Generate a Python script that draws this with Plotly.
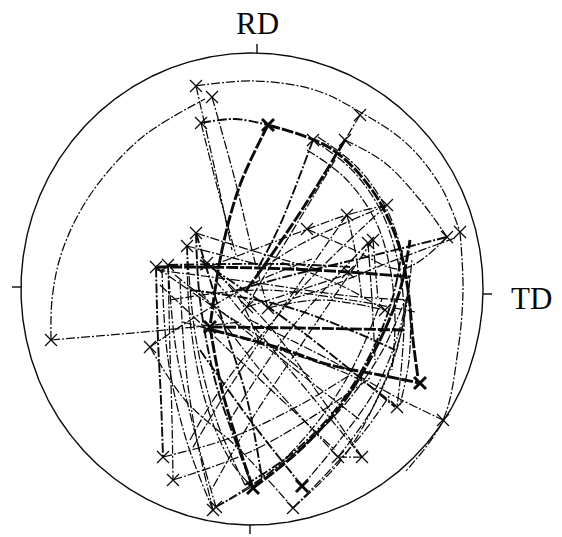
import numpy as np
import plotly.graph_objects as go

# Projection frame: origin at the pole-figure centre, x toward TD, y toward RD.
PRIMITIVE_RX = 231
PRIMITIVE_RY = 236

# Poles (trace end points) marked with crosses
POLES = [(-56, 203), (-40, 192), (-51, 166), (61, 149), (108, 174), (93, 149),
         (135, 84), (95, 74), (116, 46), (121, 49), (55, 60), (208, 57),
         (195, 52), (-56, 56), (-65, 43), (-96, 22), (-84, 24), (-45, 26),
         (-201, -51), (-102, -58), (-5, -18), (16, -19), (96, 17), (133, -21),
         (145, -118), (191, -131), (86, -168), (110, -168), (-89, -168),
         (-79, -191), (-39, -221), (-36, -218), (41, -219)]
HEAVY_POLES = [(16, 164), (168, -94), (1, -199), (50, -197), (-42, -38)]

# Great-circle traces, thin dash-dot
TRACES_THIN = [
    [(-56, 203), (3, 208), (63, 199), (108, 177), (153, 147), (188, 104), (208, 57)],
    [(208, 57), (211, -1), (206, -61), (191, -131), (153, -183)],
    [(-201, -51), (-200, -11), (-192, 31), (-174, 74), (-147, 114), (-107, 154), (-47, 190)],
    [(93, 149), (133, 126), (168, 89), (195, 52)],
    [(61, 149), (100, 119), (130, 76), (146, 27), (152, -21), (150, -71), (145, -118)],
    [(66, 152), (106, 121), (136, 77), (152, 27), (158, -21), (157, -71), (148, -116)],
    [(55, 139), (93, 111), (123, 69), (138, 21), (143, -31), (140, -81)],
    [(-56, 203), (-37, 119), (-20, 39)],
    [(-51, 166), (-34, 99), (-16, 34)],
    [(-40, 192), (-17, 109), (3, 27), (16, -19)],
    [(83, 129), (38, 54), (10, 9), (-5, -18)],
    [(135, 84), (95, 74), (48, 57), (-12, 34), (-52, 19)],
    [(95, 74), (103, 39), (110, -11)],
    [(116, 46), (120, -11), (123, -71)],
    [(121, 49), (126, -11)],
    [(203, 51), (138, 27), (68, -1), (18, -16)],
    [(-96, 19), (-2, 7), (98, -7), (158, -11)],
    [(-69, -33), (28, -61), (108, -91), (145, -118)],
    [(-2, -31), (78, -71), (146, -109), (191, -131)],
    [(-82, -11), (8, -1), (98, -11), (163, -23)],
    [(-84, 24), (-82, -61), (-80, -131), (-79, -191)],
    [(-65, 43), (-62, -31), (-47, -111), (-22, -171), (1, -199)],
    [(-72, 9), (-67, -71), (-57, -141), (-39, -221)],
    [(-102, -58), (-67, -111), (-12, -161), (41, -219)],
    [(-52, -1), (8, -81), (86, -168)],
    [(-37, 9), (38, -81), (110, -168)],
    [(-36, -218), (28, -176), (88, -121), (128, -66), (153, -11)],
    [(50, -197), (88, -151), (123, -101), (146, -46), (158, 9)],
    [(41, -219), (78, -181), (111, -144), (138, -106)],
    [(-89, -168), (-22, -149), (48, -116), (98, -86)],
    [(-79, -191), (-2, -163), (68, -123), (118, -89)],
    [(86, -168), (110, -168)],
    [(-201, -51), (-87, -41), (-12, -33)],
    [(-5, -18), (48, -1), (108, 19)],
    [(16, -19), (68, -11), (133, -21)],
    [(133, -21), (88, 4), (28, 27)],
    [(-92, 4), (-2, -81), (83, -161)],
    [(-77, 14), (18, -61), (108, -131)],
    [(135, 84), (48, -1), (-32, -101), (-62, -151)],
    [(116, 46), (38, -41), (-22, -131)],
    [(8, 19), (51, 46), (135, 84)],
    [(-45, 26), (-12, -11), (10, -61)],
    [(-56, 56), (-2, 39), (68, 19)],
    [(-65, 43), (8, 24)],
    [(108, 174), (93, 149)],
    [(-84, 24), (-76, -60), (-58, -140), (-36, -218)],
    [(-90, 20), (-84, -70), (-66, -150), (-39, -221)],
    [(-65, 43), (-56, -50), (-36, -130), (-7, -196)],
    [(41, -219), (90, -170), (125, -110), (150, -40), (160, 30)],
    [(86, -168), (120, -120), (145, -60), (156, 0)],
    [(121, 49), (60, -40), (0, -130), (-40, -200)],
    [(95, 74), (30, -20), (-30, -110), (-60, -160)],
    [(-45, 26), (20, -40), (70, -110), (110, -168)],
    [(55, 60), (100, 40), (150, 20), (195, 52)],
    [(-102, -58), (-60, -30), (0, 5), (60, 30)],
    [(-96, 22), (-50, -10), (10, -50), (60, -90)],
    [(-36, -218), (10, -190), (60, -140), (100, -80), (130, -10)],
]

# Medium-weight traces
TRACES_MED = [
    [(-51, 166), (-17, 170), (16, 164)],
    [(61, 149), (28, 64), (6, 21)],
    [(195, 52), (131, 36), (48, 16), (-22, -3)],
    [(-84, 24), (28, 25), (98, 22)],
    [(-62, -1), (28, -16), (98, -41), (143, -61)],
    [(-96, 22), (-94, -51), (-91, -111), (-89, -168)],
    [(-56, 56), (-52, -11), (-37, -91), (-17, -151), (1, -199)],
    [(-7, -196), (38, -166), (83, -121), (118, -66), (140, -11), (150, 39)],
    [(-52, 29), (48, -41), (143, -118)],
    [(50, -197), (-2, -131), (-52, -61)],
    [(-56, 56), (-30, -30), (-5, -110), (10, -190)],
]

# Heavy traces
TRACES_BOLD = [
    [(16, 164), (78, 141), (120, 99), (145, 49), (156, -1), (161, -51), (166, -89)],
    [(16, 164), (-12, 104), (-30, 39), (-42, -38)],
    [(93, 149), (53, 84), (16, 29), (-7, -3)],
    [(-96, 22), (8, 21), (96, 17), (158, 12)],
    [(-42, -38), (48, -39), (153, -41)],
    [(-40, -41), (28, -59), (78, -76), (128, -86), (168, -94)],
    [(-42, -38), (-30, -101), (-12, -161), (1, -199)],
    [(1, -199), (48, -161), (93, -111), (128, -51), (148, -1), (158, 49)],
]

# Axis labels and their reference marks on the primitive
AXIS_LABELS = ["RD", "TD"]

INK = "#0a0a0a"
fig = go.Figure()


def add_trace(points, width, dash):
    xs = [p[0] for p in points]
    ys = [p[1] for p in points]
    fig.add_trace(go.Scatter(
        x=xs, y=ys, mode="lines",
        line=dict(color=INK, width=width, dash=dash,
                  shape="spline" if len(points) > 2 else "linear", smoothing=1.0),
        hoverinfo="skip", showlegend=False))


for pts in TRACES_THIN:
    add_trace(pts, 1.25, "9px,2px,2px,2px")
for pts in TRACES_MED:
    add_trace(pts, 1.9, "10px,2px,2px,2px")
for pts in TRACES_BOLD:
    add_trace(pts, 2.9, "12px,2px")

# Primitive circle
t = np.linspace(0, 2 * np.pi, 721)
fig.add_trace(go.Scatter(x=PRIMITIVE_RX * np.cos(t), y=PRIMITIVE_RY * np.sin(t),
                         mode="lines", line=dict(color=INK, width=1.4),
                         hoverinfo="skip", showlegend=False))

# Reference ticks at RD / TD directions
tick_len = 9
ticks = [
    ([5, 5], [PRIMITIVE_RY, PRIMITIVE_RY + tick_len]),
    ([-2, -2], [-PRIMITIVE_RY, -PRIMITIVE_RY - tick_len]),
    ([-PRIMITIVE_RX, -PRIMITIVE_RX - tick_len], [2, 2]),
    ([PRIMITIVE_RX, PRIMITIVE_RX + tick_len], [-5, -5]),
]
for tx, ty in ticks:
    fig.add_trace(go.Scatter(x=tx, y=ty, mode="lines", line=dict(color=INK, width=1.4),
                             hoverinfo="skip", showlegend=False))

# Pole crosses
fig.add_trace(go.Scatter(
    x=[p[0] for p in POLES], y=[p[1] for p in POLES], mode="markers",
    marker=dict(symbol="x-thin", size=12, line=dict(color=INK, width=1.3)),
    hoverinfo="skip", showlegend=False))
fig.add_trace(go.Scatter(
    x=[p[0] for p in HEAVY_POLES], y=[p[1] for p in HEAVY_POLES], mode="markers",
    marker=dict(symbol="x-thin", size=12, line=dict(color=INK, width=3)),
    hoverinfo="skip", showlegend=False))

label_font = dict(family="Liberation Serif, Times New Roman, serif", size=31, color=INK)
fig.add_annotation(x=5, y=266, text=AXIS_LABELS[0], showarrow=False, font=label_font,
                   xanchor="center", yanchor="middle")
fig.add_annotation(x=279, y=-9, text=AXIS_LABELS[1], showarrow=False, font=label_font,
                   xanchor="center", yanchor="middle")

fig.update_layout(
    width=562, height=537,
    margin=dict(l=0, r=0, t=0, b=0),
    paper_bgcolor="white", plot_bgcolor="white",
    xaxis=dict(range=[-252, 310], visible=False, fixedrange=True),
    yaxis=dict(range=[-248, 289], visible=False, fixedrange=True),
    showlegend=False,
)

fig.write_html("out.html")
